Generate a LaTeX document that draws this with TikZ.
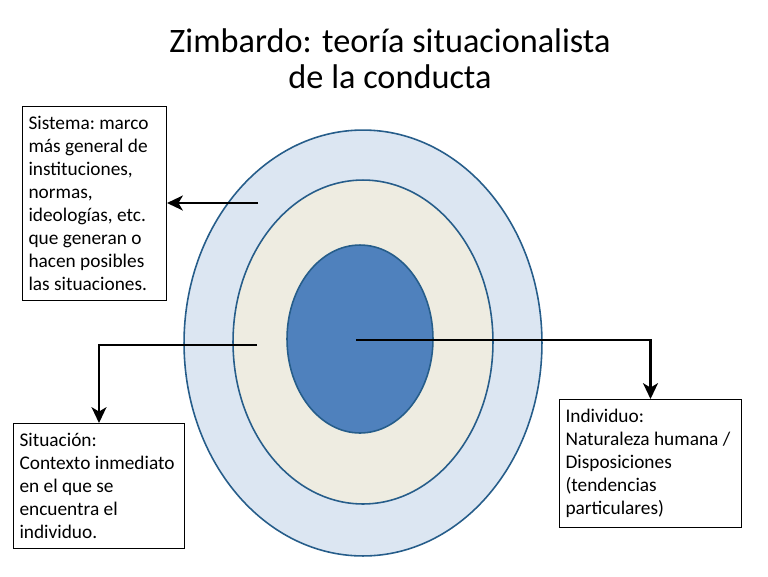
\documentclass[tikz,border=0pt]{standalone}
\usepackage{fontspec}
\setmainfont{Carlito}
\usetikzlibrary{arrows.meta}

\definecolor{ringblue}{RGB}{38,93,138}
\definecolor{outerfill}{RGB}{220,230,242}
\definecolor{midfill}{RGB}{238,236,225}
\definecolor{innerfill}{RGB}{79,129,189}

\tikzset{
  infobox/.style={draw=black, line width=0.6pt, fill=white, anchor=north west, align=flush left,
    inner xsep=0.12cm, inner ysep=5.5pt, font=\fontsize{11}{13.1}\selectfont},
  pointer/.style={line width=1.3pt, -{Stealth[length=9pt, width=8.5pt, inset=2.5pt]}},
  ring/.style={draw=ringblue, line width=0.9pt}
}

\begin{document}
\begin{tikzpicture}[x=0.02cm, y=-0.02cm]
  \useasboundingbox (0,0) rectangle (768,576);

  % Title
  \node[align=center, font=\fontsize{19.5}{20.5}\selectfont] (title) at (390,59)
    {Zimbardo: teoría situacionalista\\de la conducta};

  % Nested ellipses
  \draw[ring, fill=outerfill] (363,343) ellipse [x radius=3.58cm, y radius=4.26cm];
  \draw[ring, fill=midfill] (363,342) ellipse [x radius=2.60cm, y radius=3.24cm];
  \draw[ring, fill=innerfill] (360,339) ellipse [x radius=1.46cm, y radius=1.88cm];

  % Start points of the pointers
  \coordinate (sisStart) at (258,203);
  \coordinate (sitStart) at (257,345);
  \coordinate (indStart) at (356,340);

  % Boxes
  \node[infobox, text width=2.64cm] (sistema) at (22,106)
    {Sistema:~marco\\más~general~de\\instituciones,\\normas,\\ideologías,~etc.\\que~generan~o\\hacen~posibles\\las~situaciones.};
  \node[infobox, text width=3.18cm] (situacion) at (13,423)
    {Situación:\\Contexto~inmediato\\en~el~que~se\\encuentra~el\\individuo.};
  \node[infobox, text width=3.40cm] (individuo) at (559,399)
    {Individuo:\\Naturaleza~humana~/\\Disposiciones\\(tendencias\\particulares)};

  % Pointers
  \draw[pointer] (sisStart) -- (sisStart -| sistema.east);
  \draw[pointer] (sitStart) -| (situacion.north);
  \draw[pointer] (indStart) -| (individuo.north);

\end{tikzpicture}
\end{document}
